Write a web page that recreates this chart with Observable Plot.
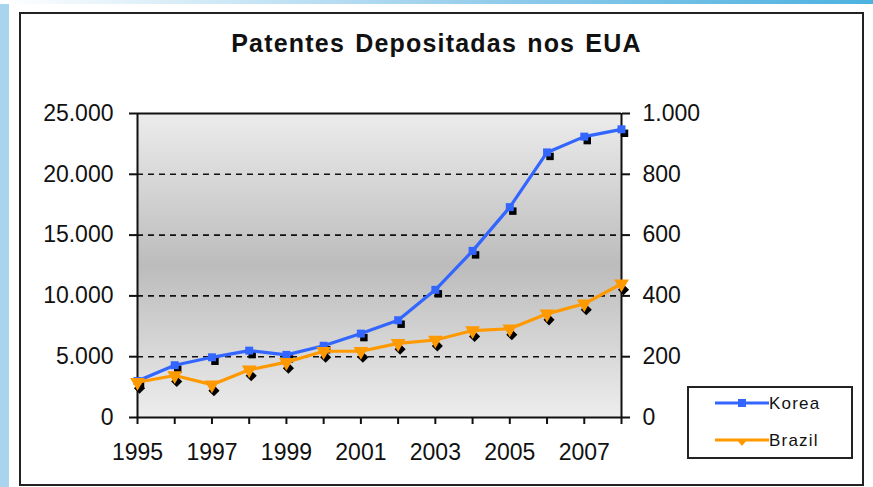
<!DOCTYPE html>
<html>
<head>
<meta charset="utf-8">
<script src="https://cdn.jsdelivr.net/npm/d3@7"></script>
<script src="https://cdn.jsdelivr.net/npm/@observablehq/plot@0.6"></script>
<style>
  body { margin: 0; background: #fff; font-family: "Liberation Sans", Arial, sans-serif; }
  #wrap { position: relative; width: 873px; height: 487px; overflow: hidden; background: #fff; }
  #leftstrip { position: absolute; left: 0; top: 0; width: 9px; height: 487px; background: #a9d4f0; }
  #topstrip { position: absolute; left: 0; top: 0; width: 873px; height: 4px; background: linear-gradient(to right, #ffffff, #8cc9ea 60%, #4cb2e0); }
  #frame { position: absolute; left: 19px; top: 12px; width: 845px; height: 474px; box-sizing: border-box; border: 2px solid #222; background: #fff; }
  #title { position: absolute; left: 0; width: 873px; top: 31px; text-align: center; font-size: 25px; font-weight: bold; color: #111; line-height: 25px; letter-spacing: 1.2px; word-spacing: 2px; }
  #chart { position: absolute; left: 0; top: 0; }
  #legend { position: absolute; left: 687px; top: 386px; }
</style>
</head>
<body>
<div id="wrap">
  <div id="leftstrip"></div>
  <div id="topstrip"></div>
  <div id="frame"></div>
  <div id="chart"></div>
  <div id="title">Patentes Depositadas nos EUA</div>
  <div id="legend"></div>
</div>
<script>
const years  = [1995, 1996, 1997, 1998, 1999, 2000, 2001, 2002, 2003, 2004, 2005, 2006, 2007, 2008];
const korea  = [3000, 4300, 4950, 5500, 5150, 5900, 6900, 8000, 10500, 13700, 17300, 21800, 23100, 23700];
const brazil = [116, 138, 108, 157, 182, 218, 218, 244, 255, 286, 292, 341, 374, 440];
const leftTicks  = [0, 5000, 10000, 15000, 20000, 25000];
const rightTicks = [0, 200, 400, 600, 800, 1000];
const labelYears = [1995, 1997, 1999, 2001, 2003, 2005, 2007];
const seriesNames = ["Korea", "Brazil"];
const colors = {Korea: "#3366ff", Brazil: "#ff9900"};

const ratio = leftTicks[leftTicks.length - 1] / rightTicks[rightTicks.length - 1];
const ptBR = d3.formatLocale({decimal: ",", thousands: ".", grouping: [3], currency: ["R$", ""]});
const fmt = ptBR.format(",");

const data = years.map((y, i) => ({year: y, korea: korea[i], brazil: brazil[i], brazilScaled: brazil[i] * ratio}));
const gridVals = leftTicks.slice(1, -1);

const axisFont = 23;
const plot = Plot.plot({
  width: 873,
  height: 487,
  marginLeft: 137,
  marginRight: 252,
  marginTop: 113,
  marginBottom: 70,
  style: {background: "transparent", color: "#111", fontFamily: "'Liberation Sans', Arial, sans-serif", overflow: "visible"},
  x: {domain: [years[0], years[years.length - 1]], type: "linear", label: null},
  y: {domain: [leftTicks[0], leftTicks[leftTicks.length - 1]], label: null},
  marks: [
    Plot.frame({fill: "url(#plotbg)", stroke: "none"}),
    Plot.ruleY(gridVals, {stroke: "#111", strokeWidth: 1.6, strokeDasharray: "6,5"}),
    Plot.ruleY([leftTicks[0], leftTicks[leftTicks.length - 1]], {stroke: "#111", strokeWidth: 2}),
    Plot.ruleX([years[0], years[years.length - 1]], {stroke: "#111", strokeWidth: 2}),
    Plot.axisY(leftTicks, {anchor: "left", label: null, tickSize: 8, tickPadding: 16, tickFormat: fmt, fontSize: axisFont, strokeWidth: 2, stroke: "#111", fill: "#111"}),
    Plot.axisY(rightTicks.map(v => v * ratio), {anchor: "right", label: null, tickSize: 8, tickPadding: 13, tickFormat: d => fmt(d / ratio), fontSize: axisFont, strokeWidth: 2, stroke: "#111", fill: "#111"}),
    Plot.axisX(years, {anchor: "bottom", label: null, tickSize: 7, tickPadding: 19, tickFormat: d => labelYears.includes(d) ? String(d) : "", fontSize: axisFont, strokeWidth: 2, stroke: "#111", fill: "#111"}),
    // shadow markers
    Plot.dot(data, {x: "year", y: "korea", symbol: "square", r: 4.2, fill: "#000", dx: 3, dy: 4}),
    Plot.dot(data, {x: "year", y: "brazilScaled", symbol: "diamond2", r: 5, fill: "#000", dx: 2, dy: 6}),
    // lines
    Plot.line(data, {x: "year", y: "korea", stroke: colors.Korea, strokeWidth: 3.2}),
    Plot.line(data, {x: "year", y: "brazilScaled", stroke: colors.Brazil, strokeWidth: 3.2}),
    // colored markers
    Plot.dot(data, {x: "year", y: "korea", symbol: "square", r: 4.5, fill: colors.Korea}),
    Plot.dot(data, {x: "year", y: "brazilScaled", symbol: "triangle", rotate: 180, r: 5.5, fill: colors.Brazil})
  ]
});

// gradient for plot area
const ns = "http://www.w3.org/2000/svg";
const defs = document.createElementNS(ns, "defs");
const grad = document.createElementNS(ns, "linearGradient");
grad.setAttribute("id", "plotbg");
grad.setAttribute("x1", "0"); grad.setAttribute("y1", "0");
grad.setAttribute("x2", "0"); grad.setAttribute("y2", "1");
[["0%", "#ececec"], ["50%", "#bcbcbc"], ["100%", "#ededed"]].forEach(([o, c]) => {
  const s = document.createElementNS(ns, "stop");
  s.setAttribute("offset", o); s.setAttribute("stop-color", c);
  grad.appendChild(s);
});
defs.appendChild(grad);
plot.insertBefore(defs, plot.firstChild);
document.getElementById("chart").appendChild(plot);

// legend
const lw = 166, lh = 73;
const leg = d3.select("#legend").append("svg").attr("width", lw).attr("height", lh);
leg.append("rect").attr("x", 1).attr("y", 1).attr("width", lw - 2).attr("height", lh - 2)
  .attr("fill", "#fff").attr("stroke", "#222").attr("stroke-width", 2);
seriesNames.forEach((name, i) => {
  const yy = 17 + i * 37;
  const g = leg.append("g");
  g.append("line").attr("x1", 28).attr("x2", 82).attr("y1", yy).attr("y2", yy)
    .attr("stroke", colors[name]).attr("stroke-width", 3);
  if (name === "Korea") {
    g.append("rect").attr("x", 51).attr("y", yy - 4).attr("width", 8).attr("height", 8).attr("fill", colors[name]);
  } else {
    g.append("path").attr("d", `M50,${yy} L60,${yy} L55,${yy + 6} Z`).attr("fill", colors[name]);
  }
  g.append("text").attr("x", 82).attr("y", yy + 6).attr("font-size", 17)
    .attr("letter-spacing", 1.2)
    .attr("font-family", "'Liberation Sans', Arial, sans-serif").attr("fill", "#111").text(name);
});
</script>
</body>
</html>
